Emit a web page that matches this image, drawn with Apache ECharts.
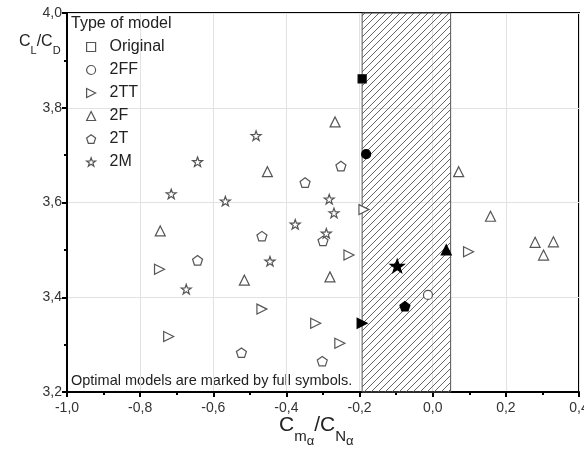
<!DOCTYPE html>
<html>
<head>
<meta charset="UTF-8">
<title>CL/CD vs Cm/CN</title>
<script src="https://cdn.jsdelivr.net/npm/echarts@6/dist/echarts.min.js"></script>
</head>
<body style="margin:0">
<div id="main" style="width:584px;height:450px;"></div>
<script>
  // axis ticks
  const xTicks = [-1.0, -0.8, -0.6, -0.4, -0.2, 0.0, 0.2, 0.4]
  const yTicks = [3.2, 3.4, 3.6, 3.8, 4.0]
  // optimal band (hatched)
  const band = [-0.193, 0.049]

  const modelNames = ['Original', '2FF', '2TT', '2F', '2T', '2M']

  // open symbols / full symbols (optimal) for each model
  const origOpen = []
  const origFull = [[-0.193, 3.861]]
  const ffOpen = [[-0.013, 3.405]]
  const ffFull = [[-0.182, 3.702]]
  const ttOpen = [[-0.747, 3.459], [-0.467, 3.375], [-0.722, 3.317], [-0.320, 3.345],
    [-0.254, 3.303], [-0.229, 3.489], [-0.188, 3.585], [0.098, 3.496]]
  const ttFull = [[-0.193, 3.345]]
  const fOpen = [[-0.452, 3.665], [-0.745, 3.540], [-0.515, 3.436], [-0.267, 3.770],
    [0.071, 3.665], [-0.281, 3.443], [0.158, 3.571], [0.280, 3.516], [0.330, 3.517], [0.303, 3.489]]
  const fFull = [[0.037, 3.500]]
  const tOpen = [[-0.349, 3.642], [-0.467, 3.529], [-0.643, 3.478], [-0.523, 3.283],
    [-0.251, 3.677], [-0.300, 3.519], [-0.302, 3.265]]
  const tFull = [[-0.076, 3.381]]
  const mOpen = [[-0.483, 3.741], [-0.643, 3.686], [-0.715, 3.618], [-0.567, 3.603],
    [-0.376, 3.554], [-0.445, 3.476], [-0.674, 3.417], [-0.283, 3.607], [-0.270, 3.578], [-0.291, 3.535]]
  const mFull = [[-0.097, 3.466]]

  const FONT = '"Liberation Sans", Arial, sans-serif'

  const starPath = 'path://M0,-10L2.35,-3.24L9.51,-3.09L3.8,1.24L5.88,8.09L0,4L-5.88,8.09L-3.8,1.24L-9.51,-3.09L-2.35,-3.24Z'
  const pentPath = 'path://M0,-10L9.51,-3.09L5.88,8.09L-5.88,8.09L-9.51,-3.09Z'
  const rightTri = 'path://M0,0L10,5L0,10Z'

  const models = [
    { name: 'Original', symbol: 'rect', size: 8, fullSize: 8, open: origOpen, full: origFull },
    { name: '2FF', symbol: 'circle', size: 9, fullSize: 9, open: ffOpen, full: ffFull },
    { name: '2TT', symbol: rightTri, size: 10, fullSize: 10, open: ttOpen, full: ttFull },
    { name: '2F', symbol: 'triangle', size: 10, fullSize: 10, open: fOpen, full: fFull },
    { name: '2T', symbol: pentPath, size: 10, fullSize: 10, open: tOpen, full: tFull },
    { name: '2M', symbol: starPath, size: 10, fullSize: 14, open: mOpen, full: mFull }
  ]

  // hatch pattern
  function hatch() {
    const s = 7
    const c = document.createElement('canvas')
    c.width = s; c.height = s
    const g = c.getContext('2d')
    g.strokeStyle = '#555'
    g.lineWidth = 0.9
    g.beginPath()
    g.moveTo(-1, s + 1); g.lineTo(s + 1, -1)
    g.moveTo(-1, 1); g.lineTo(1, -1)
    g.moveTo(s - 1, s + 1); g.lineTo(s + 1, s - 1)
    g.stroke()
    return c
  }

  const fmt = v => v.toFixed(1).replace('.', ',').replace('-0,0', '0,0')

  const series = [{
    type: 'scatter',
    data: [],
    z: 1,
    silent: true,
    markArea: {
      silent: true,
      itemStyle: {
        color: { image: hatch(), repeat: 'repeat' },
        borderColor: '#555',
        borderWidth: 1
      },
      data: [[{ xAxis: band[0] }, { xAxis: band[1] }]]
    }
  }]

  models.forEach(m => {
    const data = m.open.map(p => ({ value: p }))
      .concat(m.full.map(p => ({
        value: p,
        symbolSize: m.fullSize,
        itemStyle: { color: '#000', borderColor: '#000' }
      })))
    series.push({
      name: m.name,
      type: 'scatter',
      z: 3,
      symbol: m.symbol,
      symbolKeepAspect: true,
      symbolSize: m.size,
      itemStyle: { color: '#fff', borderColor: '#555', borderWidth: 1.2, opacity: 1 },
      emphasis: { disabled: true },
      data: data
    })
  })

  const myChart = echarts.init(document.getElementById('main'))

  const option = {
    animation: false,
    backgroundColor: '#fff',
    textStyle: { fontFamily: FONT },
    title: {
      text: 'Type of model',
      left: 71,
      top: 16,
      padding: 0,
      textStyle: { fontFamily: FONT, fontSize: 16, fontWeight: 'normal', color: '#222' }
    },
    legend: {
      orient: 'vertical',
      left: 86,
      top: 39,
      padding: 0,
      itemWidth: 9,
      itemHeight: 9,
      itemGap: 7,
      data: modelNames,
      formatter: name => '  ' + name,
      itemStyle: { color: '#fff', borderColor: '#555', borderWidth: 1.2 },
      textStyle: { fontFamily: FONT, fontSize: 16, lineHeight: 16, color: '#222' }
    },
    grid: {
      left: 67,
      right: 5,
      top: 13,
      bottom: 58,
      outerBoundsMode: 'none',
      containLabel: false,
      show: true,
      borderColor: '#000',
      borderWidth: 2
    },
    xAxis: {
      type: 'value',
      min: -1.0,
      max: 0.4,
      interval: 0.2,
      axisLine: { onZero: false, lineStyle: { color: '#000', width: 2 } },
      axisTick: { length: 5, lineStyle: { color: '#000', width: 2 } },
      minorTick: { show: true, splitNumber: 2, length: 3, lineStyle: { color: '#000', width: 2 } },
      splitLine: { show: true, lineStyle: { color: '#e2e2e2', width: 1 } },
      axisLabel: { formatter: fmt, fontSize: 14, color: '#333', margin: 9, fontFamily: FONT, showMaxLabel: true }
    },
    yAxis: {
      type: 'value',
      min: 3.2,
      max: 4.0,
      interval: 0.2,
      axisLine: { onZero: false, lineStyle: { color: '#000', width: 2 } },
      axisTick: { length: 5, lineStyle: { color: '#000', width: 2 } },
      minorTick: { show: true, splitNumber: 2, length: 3, lineStyle: { color: '#000', width: 2 } },
      splitLine: { show: true, lineStyle: { color: '#e2e2e2', width: 1 } },
      axisLabel: { formatter: fmt, fontSize: 14, color: '#333', margin: 5, fontFamily: FONT }
    },
    graphic: [
      {
        type: 'text',
        left: 71,
        top: 373,
        style: {
          text: 'Optimal models are marked by full symbols.',
          font: '14.5px ' + FONT,
          fill: '#222'
        }
      },
      {
        type: 'text',
        left: 19,
        top: 34,
        style: {
          text: '{c|C}{s|L}{c|/C}{s|D}',
          font: '16px ' + FONT,
          fill: '#222',
          rich: {
            c: { fontSize: 16, fontFamily: FONT, verticalAlign: 'top', padding: [0, 0, 6, 0] },
            s: { fontSize: 11, fontFamily: FONT, verticalAlign: 'bottom', padding: [6, 0, 0, 0] }
          }
        }
      },
      {
        type: 'text',
        left: 279,
        top: 415,
        style: {
          text: '{c|C}{s|m}{ss|α}{c|/C}{s|N}{ss|α}',
          font: '21px ' + FONT,
          fill: '#222',
          rich: {
            c: { fontSize: 21, fontFamily: FONT, verticalAlign: 'top', padding: [0, 0, 12, 0] },
            s: { fontSize: 15, fontFamily: FONT, verticalAlign: 'bottom', padding: [8, 0, 4, 0] },
            ss: { fontSize: 13, fontFamily: FONT, verticalAlign: 'bottom', padding: [14, 0, 0, 0] }
          }
        }
      }
    ],
    series: series
  }

  myChart.setOption(option)
</script>
</body>
</html>
